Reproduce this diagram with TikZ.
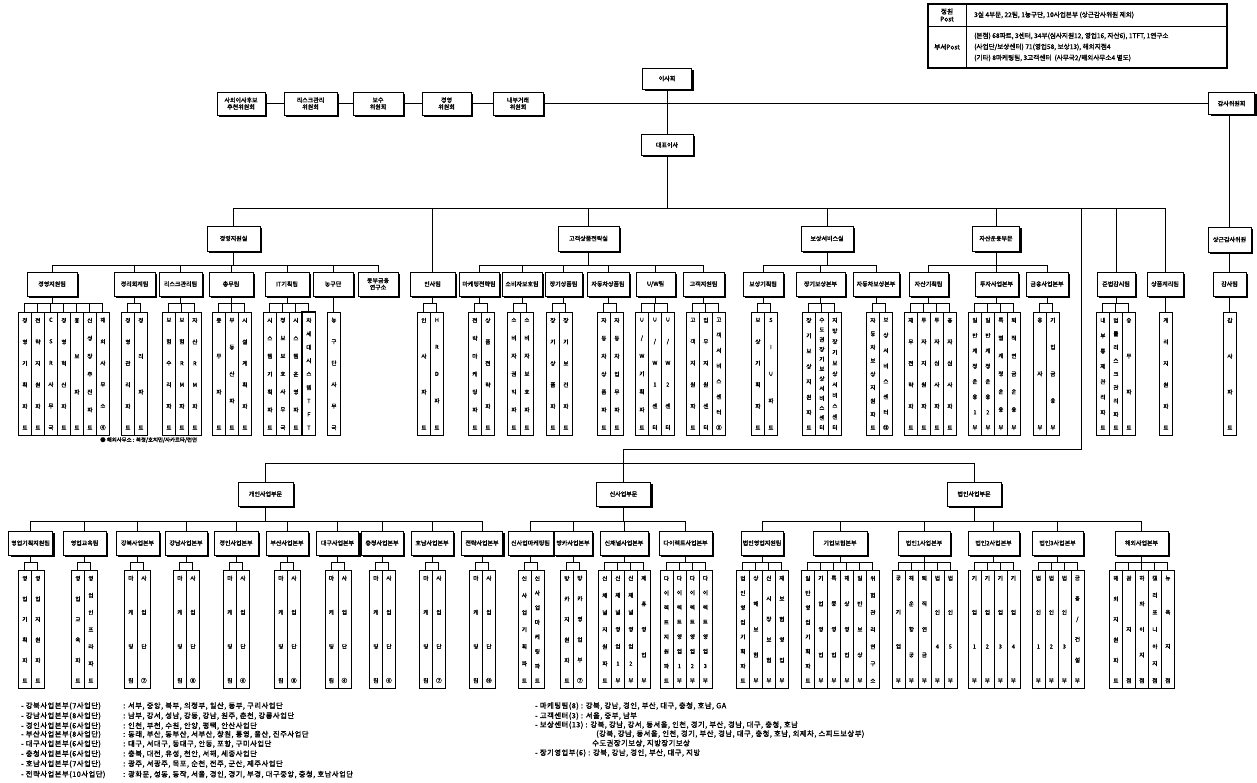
\documentclass[tikz,border=0pt]{standalone}
\usepackage{fontspec}
\setmainfont{Noto Sans CJK KR}[AutoFakeBold=1.6]
\usetikzlibrary{shadows}
\ExplSyntaxOn
\NewDocumentCommand\stk{m}
 {
  \seq_clear:N \l_tmpa_seq
  \exp_args:Nx \tl_map_inline:nn {#1} { \seq_put_right:Nn \l_tmpa_seq {##1} }
  \seq_use:Nn \l_tmpa_seq { \par\vfill }
 }
\ExplSyntaxOff
\newcommand\fbx{\fontsize{6}{6.8}\selectfont\bfseries}
\newcommand\fcl{\fontsize{5.6}{5.8}\selectfont\bfseries}
\newcommand\fnt{\fontsize{7.3}{8}\selectfont\bfseries\addfontfeature{LetterSpace=7}}
\newcommand\ftb{\fontsize{6.6}{7.5}\selectfont\bfseries}
\newcommand\fsm{\fontsize{5.4}{6}\selectfont\bfseries}
\newcount\cno
\def\cw{13}
\def\ctop{312}
\def\cbot{435}
\def\cbus{9}
\tikzset{
  obox/.style={draw, fill=white, line width=0.9pt, align=center, inner sep=1pt, font=\fbx,
    drop shadow={shadow xshift=2pt, shadow yshift=-2pt, fill=black, opacity=1}},
  colbox/.style={draw, fill=white, line width=0.75pt, inner sep=0pt,
    drop shadow={shadow xshift=1pt, shadow yshift=-1pt, fill=black, opacity=1}},
  conn/.style={line width=0.8pt},
  note/.style={anchor=west, inner sep=0pt, font=\fnt},
  tb/.style={inner sep=0pt, font=\ftb, align=center},
}
\newcommand\vcol[3]{%
  \global\advance\cno by 1
  \edef\cn{vc\the\cno}\edef\ct{vt\the\cno}%
  \node[colbox, minimum width=\cw, minimum height={\cbot-\ctop}, anchor=north west] (\cn) at ({#2},\ctop) {};
  \node[inner sep=0pt, font=\fcl] (\ct) at (\cn.center) {\parbox[c][\dimexpr\cbot pt-\ctop pt-11pt\relax][s]{10pt}{\centering\stk{#3}}};
  \draw[conn] (#1.south) |- ([yshift=\cbus pt]\cn.north) -- (\cn.north);
}
\newcommand\lgrp[3]{\foreach \t [count=\i] in {#3}{\vcol{#1}{#2+(\i-1)*\cw}{\t}}}
\begin{document}
\begin{tikzpicture}[x=1pt,y=-1pt]
\fill[white] (0,0) rectangle (1257,783);
\useasboundingbox (0,0) rectangle (1257,783);

% ---------- table ----------
\draw[line width=1.2pt] (928,4) rectangle (1227,68);
\draw[line width=0.8pt] (966,4) -- (966,68);
\draw[line width=0.8pt] (928,26) -- (1227,26);
\node[tb] (t1) at (947,15) {정원\\Post};
\node[tb, anchor=west] (t2) at (974,15) {3실 4부문, 22팀, 1농구단, 10사업본부 (상근감사위원 제외)};
\node[tb] (t3) at (947,47) {부서Post};
\node[tb, anchor=west] (t4) at (974,36) {(본점) 68파트, 3센터, 34부(심사지원12, 영업16, 자산6), 1TFT, 1연구소};
\node[tb, anchor=west] (t5) at (974,47) {(사업단/보상센터) 71(영업58, 보상13), 해외지점4};
\node[tb, anchor=west] (t6) at (974,58) {(기타) 8마케팅팀, 3고객센터 \ (사무국2/해외사무소4 별도)};

% ---------- top ----------
\node[obox, minimum width=49, minimum height=21] (board) at (667,78.5) {이사회};
\node[obox, minimum width=52, minimum height=21] (ceo) at (667,145) {대표이사};
\node[obox, minimum width=48, minimum height=23] (k1) at (241,103.5) {사외이사후보\\추천위원회};
\node[obox, minimum width=53, minimum height=23] (k2) at (310.5,103.5) {리스크관리\\위원회};
\node[obox, minimum width=50, minimum height=23] (k3) at (378,103.5) {보수\\위원회};
\node[obox, minimum width=49, minimum height=23] (k4) at (446.5,103.5) {경영\\위원회};
\node[obox, minimum width=50, minimum height=23] (k5) at (518,103.5) {내부거래\\위원회};
\node[obox, minimum width=46, minimum height=22] (audc) at (1231.5,103.5) {감사위원회};
\draw[conn] (k1) -- (k2) -- (k3) -- (k4) -- (k5) -- (audc);
\draw[conn] (board) -- (ceo);
\coordinate (bus) at (667,208);
\draw[conn] (ceo) -- (bus);

% ---------- level 2 ----------
\node[obox, minimum width=53, minimum height=25] (gs) at (233.5,238.5) {경영지원실};
\node[obox, minimum width=61, minimum height=25] (cs) at (588.5,238.5) {고객상품전략실};
\node[obox, minimum width=52, minimum height=25] (bs) at (827,238.5) {보상서비스실};
\node[obox, minimum width=47, minimum height=25] (as) at (996,238.5) {자산운용부문};
\node[obox, minimum width=43, minimum height=25] (sg) at (1229.5,239.5) {상근감사위원};
\draw[conn] (audc.south -| sg.north) -- (sg.north);

% ---------- level 3 ----------
\node[obox, minimum width=50, minimum height=24] (g1) at (52,284) {경영지원팀};
\node[obox, minimum width=41, minimum height=24] (g2) at (134.5,284) {경리회계팀};
\node[obox, minimum width=43, minimum height=24] (g3) at (180.5,284) {리스크관리팀};
\node[obox, minimum width=44, minimum height=24] (g4) at (231,284) {총무팀};
\node[obox, minimum width=44, minimum height=24] (g5) at (287,284) {IT기획팀};
\node[obox, minimum width=40, minimum height=24] (g6) at (333,284) {농구단};
\node[obox, minimum width=40, minimum height=24] (g7) at (378,284) {동부금융\\연구소};
\node[obox, minimum width=45, minimum height=24] (hr) at (432.5,284) {인사팀};
\node[obox, minimum width=40, minimum height=24] (cs1) at (479,284) {마케팅전략팀};
\node[obox, minimum width=40, minimum height=24] (cs2) at (522,284) {소비자보호팀};
\node[obox, minimum width=37, minimum height=24] (cs3) at (563.5,284) {장기상품팀};
\node[obox, minimum width=42, minimum height=24] (cs4) at (608,284) {자동차상품팀};
\node[obox, minimum width=39, minimum height=24] (cs5) at (655.5,284) {U/W팀};
\node[obox, minimum width=41, minimum height=24] (cs6) at (703.5,284) {고객지원팀};
\node[obox, minimum width=40, minimum height=24] (bs1) at (763,284) {보상기획팀};
\node[obox, minimum width=49, minimum height=24] (bs2) at (820.5,284) {장기보상본부};
\node[obox, minimum width=46, minimum height=24] (bs3) at (876,284) {자동차보상본부};
\node[obox, minimum width=39, minimum height=24] (as1) at (928.5,284) {자산기획팀};
\node[obox, minimum width=43, minimum height=24] (as2) at (996.5,284) {투자사업본부};
\node[obox, minimum width=42, minimum height=24] (as3) at (1047,284) {금융사업본부};
\node[obox, minimum width=38, minimum height=24] (law) at (1116,284) {준법감시팀};
\node[obox, minimum width=36, minimum height=24] (act) at (1165,284) {상품계리팀};
\node[obox, minimum width=33, minimum height=24] (aud) at (1229.5,284) {감사팀};

\foreach \c in {gs,hr,cs,bs,as,law,act} {\draw[conn] (bus) -| (\c.north);}
\foreach \c in {g1,g2,g3,g4,g5,g6,g7} {\draw[conn] (gs.south) |- ([yshift=6pt]\c.north) -- (\c.north);}
\foreach \c in {cs1,cs2,cs3,cs4,cs5,cs6} {\draw[conn] (cs.south) |- ([yshift=6pt]\c.north) -- (\c.north);}
\foreach \c in {bs1,bs2,bs3} {\draw[conn] (bs.south) |- ([yshift=6pt]\c.north) -- (\c.north);}
\foreach \c in {as1,as2,as3} {\draw[conn] (as.south) |- ([yshift=6pt]\c.north) -- (\c.north);}
\draw[conn] (sg.south -| aud.north) -- (aud.north);

% ---------- upper columns ----------
\lgrp{g1}{18}{경영기획파트,전략지원파트,CSR사무국,경영혁신파트,홍보파트,신성장추진파트,해외사무소④}
\lgrp{g2}{121}{경영관리파트,경리파트}
\lgrp{g3}{162}{보험수리파트,보험RM파트,자산RM파트}
\lgrp{g4}{212}{총무파트,부동산파트,시설계획파트}
\lgrp{g5}{263}{시스템기획파트,정보보호사무국,시스템운영파트,차세대시스템TFT}
\draw[line width=1.4pt] (vc19.south west) rectangle (vc19.north east);
\lgrp{g6}{327}{농구단사무국}
\lgrp{hr}{417}{인사파트,HRD파트}
\lgrp{cs1}{468}{전략마케팅파트,상품전략파트}
\lgrp{cs2}{507}{소비자권익파트,소비자보호파트}
\lgrp{cs3}{546}{장기상품파트,장기보건파트}
\lgrp{cs4}{597}{자동차상품파트,자동차업무파트}
\lgrp{cs5}{635}{U/W기획파트,U/W1센터,U/W2센터}
\lgrp{cs6}{686}{고객지원파트,업무지원센터,고객서비스센터③}
\lgrp{bs1}{751}{보상기획파트,SIU파트}
\lgrp{bs2}{802}{장기보상지원파트,수도권장기보상서비스센터,지방장기보상서비스센터}
\lgrp{bs3}{866}{자동차보상지원파트,보상서비스센터⑬}
\lgrp{as1}{904}{재무전략파트,투자지원파트,투자심사파트,융자심사파트}
\lgrp{as2}{968}{일반계정운용1부,일반계정운용2부,특별계정운용부,퇴직연금운용부}
\lgrp{as3}{1033}{융자부,기업금융부}
\lgrp{law}{1096}{내부통제관리파트,법률리스크관리파트,송무파트}
\lgrp{act}{1159}{계리지원파트}
\lgrp{aud}{1223}{감사파트}

\node[anchor=west, inner sep=0pt, font=\fsm] (ovs) at (100,440) {● 해외사무소 : 북경/호치민/자카르타/런던};

% ---------- lower section ----------
\coordinate (j1) at (1081,449);
\coordinate (j2) at (623.5,449);
\coordinate (lowbus) at (623.5,463);
\draw[conn] (bus) -| (j1) -- (j2) -- (lowbus);

\node[obox, minimum width=55, minimum height=24] (pi) at (265.5,494) {개인사업부문};
\node[obox, minimum width=54, minimum height=24] (ps) at (623.5,494) {신사업부문};
\node[obox, minimum width=54, minimum height=24] (pb) at (974,494) {법인사업부문};
\draw[conn] (lowbus) -| (pi.north);
\draw[conn] (lowbus) -- (ps.north);
\draw[conn] (lowbus) -| (pb.north);

\node[obox, minimum width=44, minimum height=24] (p1) at (30.5,543) {영업기획지원팀};
\node[obox, minimum width=43, minimum height=24] (p2) at (84.5,543) {영업교육팀};
\node[obox, minimum width=43, minimum height=24] (p3) at (137.5,543) {강북사업본부};
\node[obox, minimum width=42, minimum height=24] (p4) at (186,543) {강남사업본부};
\node[obox, minimum width=44, minimum height=24] (p5) at (236,543) {경인사업본부};
\node[obox, minimum width=42, minimum height=24] (p6) at (287,543) {부산사업본부};
\node[obox, minimum width=42, minimum height=24] (p7) at (337.5,543) {대구사업본부};
\node[obox, minimum width=42, minimum height=24] (p8) at (382,543) {충청사업본부};
\node[obox, minimum width=42, minimum height=24] (p9) at (432,543) {호남사업본부};
\node[obox, minimum width=41, minimum height=24] (p10) at (482,543) {전략사업본부};
\node[obox, minimum width=45, minimum height=24] (s1) at (530.5,543) {신사업마케팅팀};
\node[obox, minimum width=38, minimum height=24] (s2) at (573,543) {방카사업본부};
\node[obox, minimum width=48, minimum height=24] (s3) at (624,543) {신채널사업본부};
\node[obox, minimum width=53, minimum height=24] (s4) at (685.5,543) {다이렉트사업본부};
\node[obox, minimum width=42, minimum height=24] (b1) at (762,543) {법인영업지원팀};
\node[obox, minimum width=54, minimum height=24] (b2) at (840,543) {기업보험본부};
\node[obox, minimum width=52, minimum height=24] (b3) at (924,543) {법인1사업본부};
\node[obox, minimum width=51, minimum height=24] (b4) at (993.5,543) {법인2사업본부};
\node[obox, minimum width=51, minimum height=24] (b5) at (1057.5,543) {법인3사업본부};
\node[obox, minimum width=53, minimum height=24] (b6) at (1141.5,543) {해외사업본부};
\foreach \c in {p1,p2,p3,p4,p5,p6,p7,p8,p9,p10} {\draw[conn] (pi.south) |- ([yshift=9pt]\c.north) -- (\c.north);}
\foreach \c in {s1,s2,s3,s4} {\draw[conn] (ps.south) |- ([yshift=9pt]\c.north) -- (\c.north);}
\foreach \c in {b1,b2,b3,b4,b5,b6} {\draw[conn] (pb.south) |- ([yshift=9pt]\c.north) -- (\c.north);}

\def\ctop{570}
\def\cbot{688}
\def\cbus{8}
\lgrp{p1}{18}{영업기획파트,영업지원파트}
\lgrp{p2}{71}{영업교육파트,영업인프라파트}
\lgrp{p3}{124}{마케팅팀,사업단⑦}
\lgrp{p4}{173}{마케팅팀,사업단⑧}
\lgrp{p5}{223}{마케팅팀,사업단⑥}
\lgrp{p6}{274}{마케팅팀,사업단⑧}
\lgrp{p7}{324.5}{마케팅팀,사업단⑥}
\lgrp{p8}{369}{마케팅팀,사업단⑥}
\lgrp{p9}{419}{마케팅팀,사업단⑦}
\lgrp{p10}{469}{마케팅팀,사업단⑩}
\lgrp{s1}{517.5}{신사업기획파트,신사업마케팅파트}
\lgrp{s2}{560}{방카지원파트,방카영업부⑦}
\lgrp{s3}{598}{신채널지원파트,신채널영업1부,신채널영업2부,제휴영업부}
\lgrp{s4}{659.5}{다이렉트지원파트,다이렉트영업1부,다이렉트영업2부,다이렉트영업3부}
\lgrp{b1}{736}{법인영업기획파트,상해보험부,신시장보험부,재보험영업부}
\lgrp{b2}{801}{일반영업기획파트,기업영업부,특종영업부,해상영업부,일반보상부,위험관리연구소}
\lgrp{b3}{891.5}{공기업부,해운항공부,퇴직연금부,법인4부,법인5부}
\lgrp{b4}{967.5}{기업1부,기업2부,기업3부,기업4부}
\lgrp{b5}{1031.5}{법인1부,법인2부,법인3부,금융/건설부}
\lgrp{b6}{1109}{해외지원파트,괌지점,하와이지점,캘리포니아지점,뉴욕지점}

% ---------- notes ----------
\node[note] (na1) at (21,706) {- 강북사업본부(7사업단)};
\node[note] (nb1) at (123,706) {: 서부, 중앙, 북부, 의정부, 일산, 동부, 구리사업단};
\node[note] (na2) at (21,716) {- 강남사업본부(8사업단)};
\node[note] (nb2) at (123,716) {: 남부, 강서, 성남, 강동, 강남, 원주, 춘천, 강릉사업단};
\node[note] (na3) at (21,726) {- 경인사업본부(6사업단)};
\node[note] (nb3) at (123,726) {: 인천, 부천, 수원, 안양, 평택, 안산사업단};
\node[note] (na4) at (21,734.5) {- 부산사업본부(8사업단)};
\node[note] (nb4) at (123,734.5) {: 동래, 부산, 동부산, 서부산, 창원, 통영, 울산, 진주사업단};
\node[note] (na5) at (21,744) {- 대구사업본부(6사업단)};
\node[note] (nb5) at (123,744) {: 대구, 서대구, 동대구, 안동, 포항, 구미사업단};
\node[note] (na6) at (21,754) {- 충청사업본부(6사업단)};
\node[note] (nb6) at (123,754) {: 충북, 대전, 유성, 천안, 서해, 세종사업단};
\node[note] (na7) at (21,764) {- 호남사업본부(7사업단)};
\node[note] (nb7) at (123,764) {: 광주, 서광주, 목포, 순천, 전주, 군산, 제주사업단};
\node[note] (na8) at (21,774.5) {- 전략사업본부(10사업단)};
\node[note] (nb8) at (123,774.5) {: 광화문, 성동, 동작, 서울, 경인, 경기, 부경, 대구중앙, 충청, 호남사업단};

\node[note] (nc1) at (535,706) {- 마케팅팀(8) : 강북, 강남, 경인, 부산, 대구, 충청, 호남, GA};
\node[note] (nc2) at (535,716) {- 고객센터(3) : 서울, 중부, 남부};
\node[note] (nc3) at (535,725) {- 보상센터(13) : 강북, 강남, 강서, 동서울, 인천, 경기, 부산, 경남, 대구, 충청, 호남};
\node[note] (nc4) at (596,734) {(강북, 강남, 동서울, 인천, 경기, 부산, 경남, 대구, 충청, 호남, 외제차, 스피드보상부)};
\node[note] (nc5) at (592,743.5) {수도권장기보상, 지방장기보상};
\node[note] (nc6) at (535,753) {- 장기영업부(6) : 강북, 강남, 경인, 부산, 대구, 지방};
\end{tikzpicture}
\end{document}
